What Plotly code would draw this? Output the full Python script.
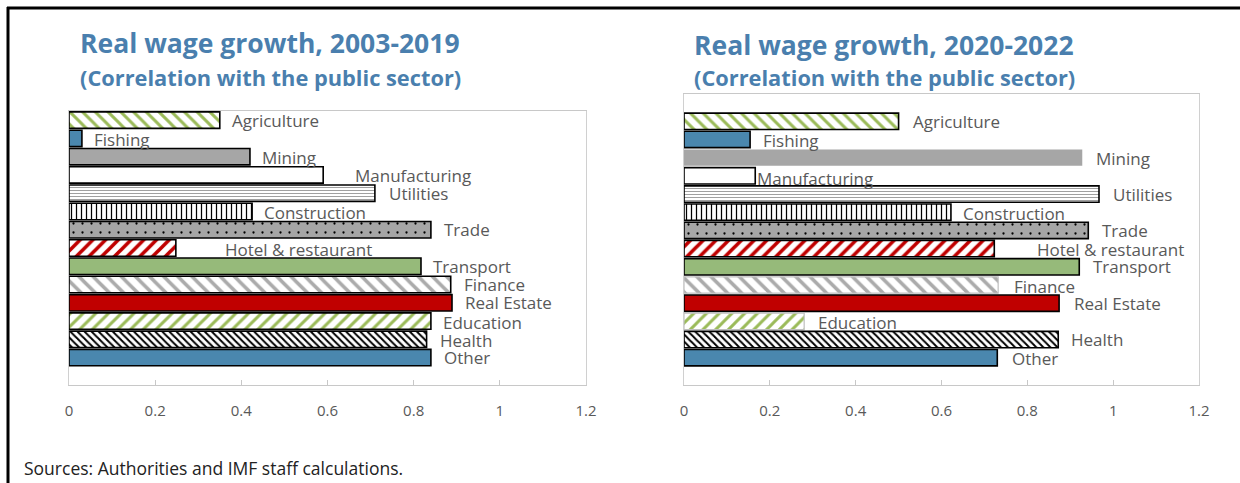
import plotly.graph_objects as go

W, H = 1240, 483

categories = ["Agriculture", "Fishing", "Mining", "Manufacturing", "Utilities", "Construction",
              "Trade", "Hotel & restaurant", "Transport", "Finance", "Real Estate",
              "Education", "Health", "Other"]

values_2003_2019 = [0.35, 0.03, 0.42, 0.59, 0.71, 0.425, 0.84, 0.248, 0.817, 0.886, 0.889, 0.84, 0.83, 0.84]
values_2020_2022 = [0.50, 0.154, 0.928, 0.166, 0.967, 0.622, 0.942, 0.723, 0.921, 0.732, 0.874, 0.28, 0.872, 0.73]

tick_vals = [0, 0.2, 0.4, 0.6, 0.8, 1.0, 1.2]
tick_text = ["0", "0.2", "0.4", "0.6", "0.8", "1", "1.2"]

title_left = "Real wage growth, 2003-2019"
title_right = "Real wage growth, 2020-2022"
subtitle = "(Correlation with the public sector)"
source_text = "Sources: Authorities and IMF staff calculations."

# ---- styles ----
BLUE = "#4A87AE"
GREEN = "#9BBB59"
GREEN_SOLID = "#96BA7A"
RED = "#C00000"
GRAY = "#A6A6A6"
LGRAY = "#ABABAB"
pat_shape = ["\\", "", "", "", "-", "|", ".", "/", "", "\\", "", "/", "\\", ""]
pat_fg = [GREEN, BLUE, GRAY, "white", "#A0A0A0", "black", "black", RED, GREEN_SOLID, LGRAY, RED, GREEN, "black", BLUE]
fill_col = ["white", BLUE, GRAY, "white", "white", "white", GRAY, "white", GREEN_SOLID, "white", RED, "white", "white", BLUE]
pat_size = [9, 8, 8, 8, 3, 5, 9, 9, 8, 10, 8, 9, 5, 8]
pat_sol = [0.33, 0.3, 0.3, 0.3, 0.35, 0.25, 0.05, 0.4, 0.3, 0.35, 0.3, 0.33, 0.4, 0.3]

line_col_left = ["black"] * 14
line_w_left = [1.6] * 14
line_col_right = ["black", "black", GRAY, "black", "black", "black", "black", "black", "black",
                  "#BFBFBF", "black", "#BFBFBF", "black", "black"]
line_w_right = [1.6, 1.6, 0, 1.6, 1.6, 1.6, 1.6, 1.6, 1.6, 1.2, 1.6, 1.2, 1.6, 1.6]

label_shift_left = [10, 10, 10, 30, 12, 10, 11, 47, 10, 11, 11, 10, 11, 11]
label_shift_right = [12, 11, 12, 0, 12, 10, 12, 41, 12, 14, 13, 12, 11, 13]
label_yshift_left = [0, -1, -1, -1, 0, -1, 0, -1, 0, 0, 0, -1, -1, 0]
label_yshift_right = [0, -1, -1, -3, 0, -1, 0, -1, 0, -2, 0, -1, 0, -1]

TXT = "#595959"
FONT = "Open Sans"
TITLE_COL = "#4A7FAE"

# the page is photographed about 1225 px wide horizontally; map target pixels accordingly
W_EFF, X_OFF = 1225.0, 3.0


def px_x(p):
    return (p - X_OFF) / W_EFF


def px_y(p):
    return 1 - p / H


fig = go.Figure()

for vals, xa, ya, lcs, lws in [
    (values_2003_2019, "x", "y", line_col_left, line_w_left),
    (values_2020_2022, "x2", "y2", line_col_right, line_w_right),
]:
    for i, (c, v) in enumerate(zip(categories, vals)):
        marker = dict(color=fill_col[i], line=dict(color=lcs[i], width=lws[i]))
        if pat_shape[i]:
            marker["pattern"] = dict(shape=pat_shape[i], fgcolor=pat_fg[i], bgcolor=fill_col[i],
                                     size=pat_size[i], solidity=pat_sol[i], fillmode="replace")
        fig.add_trace(go.Bar(
            x=[v], y=[c], orientation="h", xaxis=xa, yaxis=ya, width=0.9,
            marker=marker, showlegend=False, name=c, hoverinfo="x+y",
        ))

annotations = []
for vals, xr, yr, xs, ys in [
    (values_2003_2019, "x", "y", label_shift_left, label_yshift_left),
    (values_2020_2022, "x2", "y2", label_shift_right, label_yshift_right),
]:
    for c, v, dx, dy in zip(categories, vals, xs, ys):
        annotations.append(dict(
            x=v, y=c, xref=xr, yref=yr, text=c, showarrow=False,
            xanchor="left", yanchor="middle", xshift=dx, yshift=dy,
            font=dict(family=FONT, size=17, color=TXT),
        ))

# titles
for x0, y1, y2, t in [(77, 43, 77, title_left), (691, 45, 78, title_right)]:
    annotations.append(dict(x=px_x(x0), y=px_y(y1), xref="paper", yref="paper", text="<b>" + t + "</b>",
                            showarrow=False, xanchor="left", yanchor="middle",
                            font=dict(family=FONT, size=26.5, color=TITLE_COL)))
    annotations.append(dict(x=px_x(x0), y=px_y(y2), xref="paper", yref="paper", text="<b>" + subtitle + "</b>",
                            showarrow=False, xanchor="left", yanchor="middle",
                            font=dict(family=FONT, size=21.8, color=TITLE_COL)))

annotations.append(dict(x=px_x(21), y=px_y(468), xref="paper", yref="paper", text=source_text,
                        showarrow=False, xanchor="left", yanchor="middle",
                        font=dict(family=FONT, size=17.5, color="#222222")))

axis_common = dict(
    range=[0, 1.2], tickvals=tick_vals, ticktext=tick_text, showgrid=False, zeroline=False,
    showline=True, linecolor="#C8C8C8", linewidth=1.2, mirror=True,
    ticks="inside", ticklen=5, tickcolor="#C8C8C8",
    tickfont=dict(family=FONT, size=15, color=TXT), ticklabelstandoff=12, fixedrange=True,
)
yaxis_common = dict(
    type="category", categoryarray=categories, showticklabels=False, showgrid=False,
    zeroline=False, showline=True, linecolor="#D0D0D0", linewidth=1.2, mirror=True, ticks="",
    fixedrange=True,
)

fig.update_layout(
    width=W, height=H, margin=dict(l=0, r=0, t=0, b=0),
    paper_bgcolor="white", plot_bgcolor="white", barmode="overlay",
    xaxis=dict(domain=[px_x(68), px_x(585)], anchor="y", **axis_common),
    xaxis2=dict(domain=[px_x(683), px_x(1198)], anchor="y2", **axis_common),
    yaxis=dict(domain=[px_y(385), px_y(111)], anchor="x", range=[14.5, -0.5], **yaxis_common),
    yaxis2=dict(domain=[px_y(385), px_y(94)], anchor="x2", range=[14.5, -1.5], **yaxis_common),
    annotations=annotations,
    shapes=[
        dict(type="line", xref="paper", yref="paper", x0=px_x(7), x1=px_x(7), y0=px_y(7), y1=0,
             line=dict(color="black", width=3)),
        dict(type="line", xref="paper", yref="paper", x0=px_x(6), x1=1.02, y0=px_y(8), y1=px_y(8),
             line=dict(color="black", width=3)),
    ],
)

fig.write_html("out.html", config={"displayModeBar": False},
               post_script="document.body.style.margin='0';document.body.style.overflow='hidden';")
